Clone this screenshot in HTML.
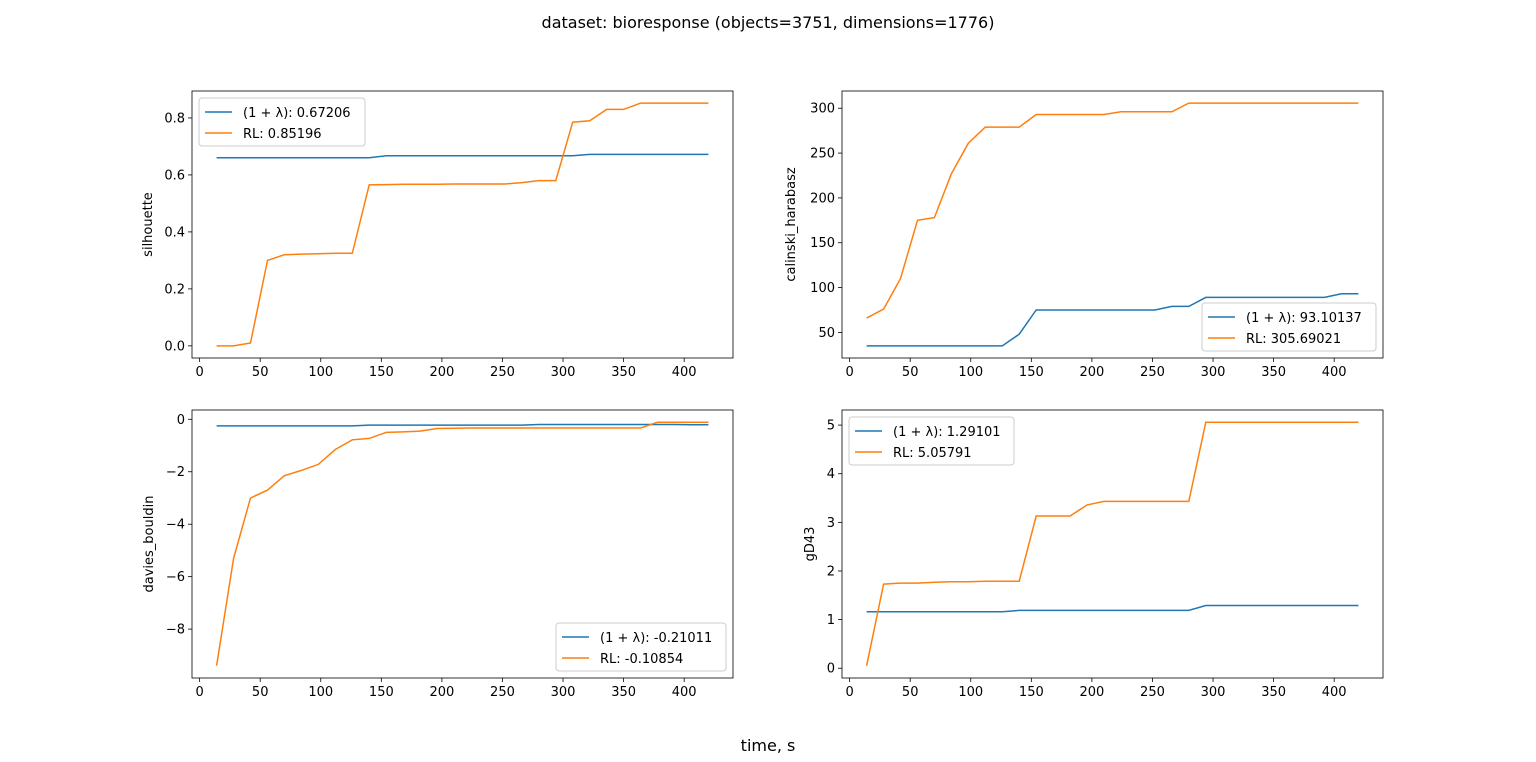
<!DOCTYPE html>
<html><head><meta charset="utf-8"><style>
body{margin:0;background:#fff;}
svg{display:block;font-family:"DejaVu Sans","Liberation Sans",sans-serif;}
</style></head><body>
<svg id="fig" width="1536" height="762" viewBox="0 0 1536 762">
<text x="768" y="28" text-anchor="middle" font-size="16">dataset: bioresponse (objects=3751, dimensions=1776)</text>
<text x="768" y="751" text-anchor="middle" font-size="16">time, s</text>
</svg>
<script>
const times=[14,28,42,56,70,84,98,112,126,140,154,168,182,196,210,224,238,252,266,280,294,308,322,336,350,364,378,392,406,420];
const silBlue=[0.66,0.66,0.66,0.66,0.66,0.66,0.66,0.66,0.66,0.66,0.667,0.667,0.667,0.667,0.667,0.667,0.667,0.667,0.667,0.667,0.667,0.667,0.672,0.672,0.672,0.672,0.672,0.672,0.672,0.672];
const silRL=[0,0,0.01,0.30,0.32,0.322,0.323,0.325,0.325,0.565,0.566,0.567,0.567,0.567,0.568,0.568,0.568,0.568,0.573,0.58,0.58,0.785,0.79,0.83,0.83,0.852,0.852,0.852,0.852,0.852];
const chBlue=[35,35,35,35,35,35,35,35,35,48,75,75,75,75,75,75,75,75,79,79,89,89,89,89,89,89,89,89,93.1,93.1];
const chRL=[66,76,110,175,178,227,261,279,279,279,293,293,293,293,293,296,296,296,296,305.7,305.7,305.7,305.7,305.7,305.7,305.7,305.7,305.7,305.7,305.7];
const dbBlue=[-0.25,-0.25,-0.25,-0.25,-0.25,-0.25,-0.25,-0.25,-0.25,-0.22,-0.22,-0.22,-0.22,-0.22,-0.22,-0.22,-0.22,-0.22,-0.22,-0.2,-0.2,-0.2,-0.2,-0.2,-0.2,-0.2,-0.2,-0.2,-0.21,-0.21];
const dbRL=[-9.4,-5.3,-3.0,-2.7,-2.15,-1.95,-1.72,-1.15,-0.78,-0.73,-0.5,-0.48,-0.45,-0.35,-0.34,-0.33,-0.33,-0.33,-0.33,-0.33,-0.33,-0.33,-0.33,-0.33,-0.33,-0.33,-0.11,-0.11,-0.11,-0.11];
const gdBlue=[1.16,1.16,1.16,1.16,1.16,1.16,1.16,1.16,1.16,1.19,1.19,1.19,1.19,1.19,1.19,1.19,1.19,1.19,1.19,1.19,1.29,1.29,1.29,1.29,1.29,1.29,1.29,1.29,1.29,1.29];
const gdRL=[0.05,1.73,1.75,1.75,1.77,1.78,1.78,1.79,1.79,1.79,3.13,3.13,3.13,3.36,3.43,3.43,3.43,3.43,3.43,3.43,5.06,5.06,5.06,5.06,5.06,5.06,5.06,5.06,5.06,5.06];
const xTicks=[0,50,100,150,200,250,300,350,400];
const silTicks=[0,0.2,0.4,0.6,0.8];
const chTicks=[50,100,150,200,250,300];
const dbTicks=[-8,-6,-4,-2,0];
const gdTicks=[0,1,2,3,4,5];
const legends=[["(1 + λ): 0.67206","RL: 0.85196"],["(1 + λ): 93.10137","RL: 305.69021"],["(1 + λ): -0.21011","RL: -0.10854"],["(1 + λ): 1.29101","RL: 5.05791"]];

const NS="http://www.w3.org/2000/svg";
const svg=document.getElementById('fig');
function mk(tag,attrs,parent){const e=document.createElementNS(NS,tag);for(const k in attrs)e.setAttribute(k,attrs[k]);(parent||svg).appendChild(e);return e;}
function fmt(v,dec){return (v<0?"\u2212":"")+Math.abs(v).toFixed(dec);}

function panel(name,L,T,W,H,blue,rl,yt,dec,ylabel,ylOff,leg,legPos,legW){
  const g=mk('g',{});
  
  
  const xmin=Math.min(...times),xmax=Math.max(...times),xr=xmax-xmin;
  const x0=xmin-0.05*xr,x1=xmax+0.05*xr;
  const all=blue.concat(rl);const ymin=Math.min(...all),ymax=Math.max(...all),yr=ymax-ymin;
  const y0=ymin-0.05*yr,y1=ymax+0.05*yr;
  const sx=v=>L+(v-x0)/(x1-x0)*W;
  const sy=v=>T+H-(v-y0)/(y1-y0)*H;
  xTicks.forEach(t=>{const x=sx(t);
    const l=mk('line',{x1:x,x2:x,y1:T+H,y2:T+H+4,stroke:'#000','stroke-width':0.8},g);
    
    
    const tx=mk('text',{x:x,y:T+H+18,'text-anchor':'middle','font-size':13},g);tx.textContent=t;
    
    
  });
  yt.forEach(t=>{const y=sy(t);
    const l=mk('line',{x1:L-4,x2:L,y1:y,y2:y,stroke:'#000','stroke-width':0.8},g);
    
    
    const tx=mk('text',{x:L-7,y:y+4.5,'text-anchor':'end','font-size':13},g);tx.textContent=fmt(t,dec);
    
    
  });
  const yl=mk('text',{x:0,y:0,'text-anchor':'middle','font-size':13,transform:`translate(${L-ylOff},${T+H/2}) rotate(-90)`},g);
  yl.textContent=ylabel;
  
  
  [[blue,'#1f77b4','blue-line'],[rl,'#ff7f0e','rl-line']].forEach(([s,c,n])=>{
    const p=mk('polyline',{points:s.map((v,i)=>sx(times[i]).toFixed(1)+','+sy(v).toFixed(1)).join(' '),fill:'none',stroke:c,'stroke-width':1.5},g);
    
    
  });
  const fr=mk('rect',{x:L,y:T,width:W,height:H,fill:'none',stroke:'#000','stroke-width':0.8},g);
  
  
  const lg=mk('g',{},g);
  
  
  const lw=legW, lh=48;
  const lx=legPos==='ul'?L+7:L+W-7-lw, ly=legPos==='ul'?T+7:T+H-7-lh;
  mk('rect',{x:lx,y:ly,width:lw,height:lh,rx:3,fill:'#fff','fill-opacity':0.8,stroke:'#ccc'},lg);
  [['#1f77b4',leg[0]],['#ff7f0e',leg[1]]].forEach(([c,t],i)=>{
    const yy=ly+14+i*21;
    mk('line',{x1:lx+6,x2:lx+33,y1:yy,y2:yy,stroke:c,'stroke-width':1.5},lg);
    const tx=mk('text',{x:lx+44,y:yy+5,'font-size':13},lg);tx.textContent=t;
    
    
  });
}
panel('silhouette',192,91,541,267,silBlue,silRL,silTicks,1,'silhouette',40,legends[0],'ul',166);
panel('calinski',842,91,541,267,chBlue,chRL,chTicks,0,'calinski_harabasz',47,legends[1],'lr',174);
panel('davies',192,410,541,268,dbBlue,dbRL,dbTicks,0,'davies_bouldin',39,legends[2],'lr',170);
panel('gd43',842,410,541,268,gdBlue,gdRL,gdTicks,0,'gD43',28,legends[3],'ul',165);
</script>
</body></html>
